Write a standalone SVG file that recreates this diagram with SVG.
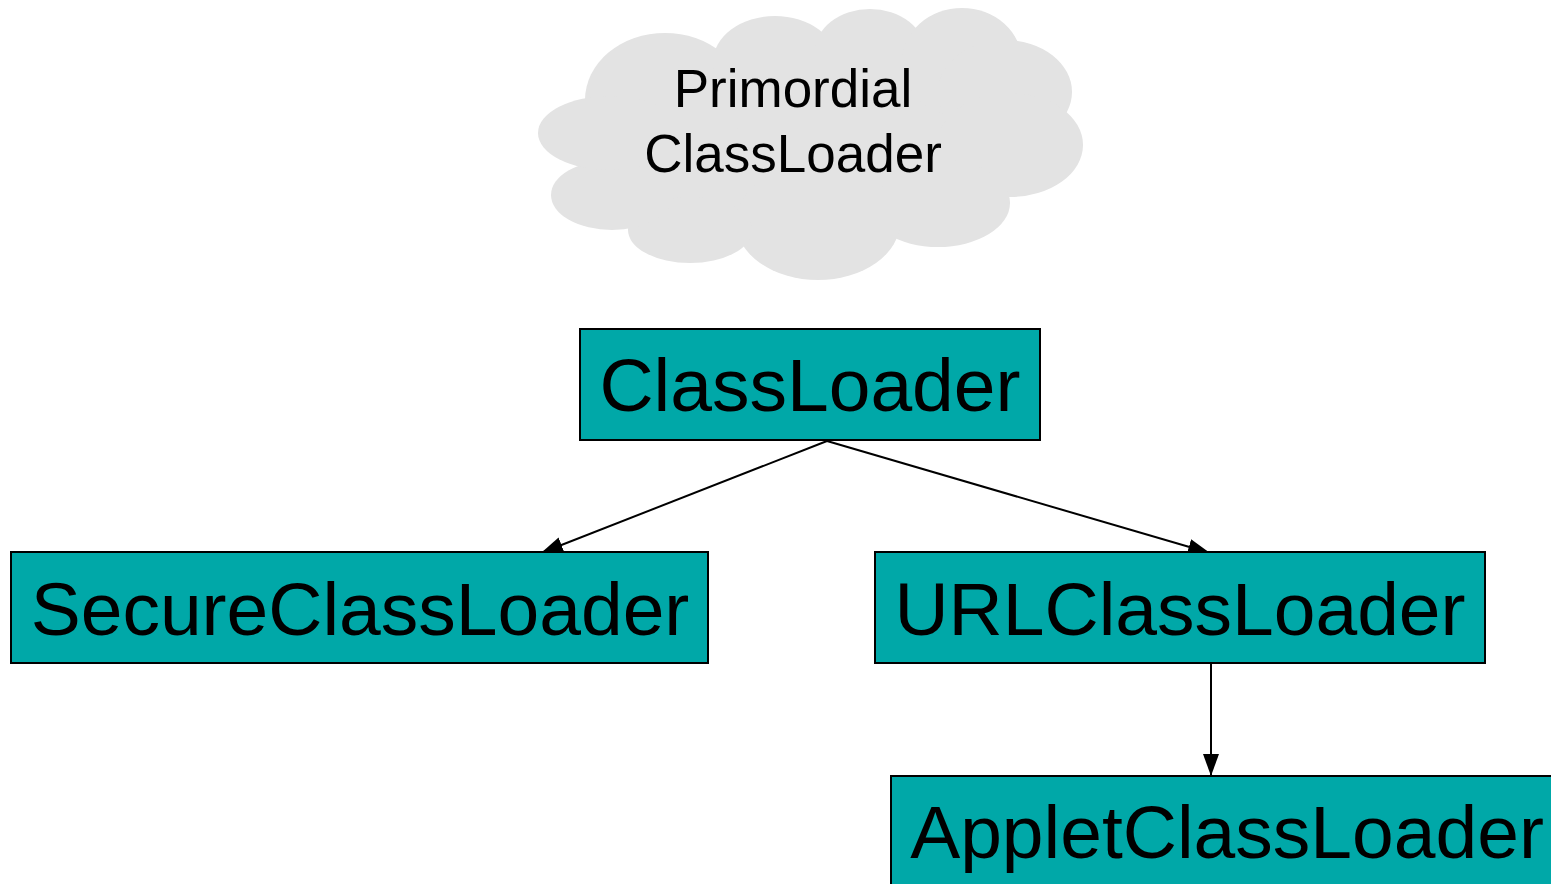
<svg xmlns="http://www.w3.org/2000/svg" width="1551" height="884" viewBox="0 0 1551 884">
<style>
.box{fill:#00A8A8;stroke:#000;stroke-width:2}
.lbl{font-family:"Liberation Sans",Arial,sans-serif;font-size:75px;fill:#000;text-anchor:middle}
.cl{font-family:"Liberation Sans",Arial,sans-serif;font-size:53px;fill:#000;text-anchor:middle}
.cloud ellipse{fill:#E3E3E3}
.conn{stroke:#000;stroke-width:2;fill:none}
</style>
<defs>
<marker id="ah" markerUnits="userSpaceOnUse" markerWidth="26" markerHeight="18" refX="22" refY="8" orient="auto">
<path d="M0,0 L22,8 L0,16 z" fill="#000"/>
</marker>
</defs>
<rect width="1551" height="884" fill="#fff"/>
<g id="primordial" class="cloud">
<ellipse cx="810" cy="145" rx="230" ry="95"/>
<ellipse cx="665" cy="100" rx="80" ry="67"/>
<ellipse cx="775" cy="62" rx="62" ry="46"/>
<ellipse cx="870" cy="52" rx="55" ry="43"/>
<ellipse cx="962" cy="62" rx="60" ry="54"/>
<ellipse cx="1005" cy="92" rx="67" ry="52"/>
<ellipse cx="1010" cy="145" rx="73" ry="52"/>
<ellipse cx="938" cy="203" rx="72" ry="44"/>
<ellipse cx="818" cy="222" rx="82" ry="58"/>
<ellipse cx="690" cy="230" rx="62" ry="33"/>
<ellipse cx="612" cy="195" rx="61" ry="35"/>
<ellipse cx="610" cy="133" rx="72" ry="37"/>
<text class="cl" x="793" y="107">Primordial</text>
<text class="cl" x="793" y="172">ClassLoader</text>
</g>
<g id="connectors">
<line class="conn" x1="827" y1="441" x2="541" y2="553" marker-end="url(#ah)"/>
<line class="conn" x1="827" y1="441" x2="1210" y2="553" marker-end="url(#ah)"/>
<line class="conn" x1="1211" y1="664" x2="1211" y2="776" marker-end="url(#ah)"/>
</g>
<g id="classloader">
<rect class="box" x="580" y="329" width="460" height="111"/>
<text class="lbl" x="810" y="411">ClassLoader</text>
</g>
<g id="secureclassloader">
<rect class="box" x="11" y="552" width="697" height="111"/>
<text class="lbl" x="360" y="635">SecureClassLoader</text>
</g>
<g id="urlclassloader">
<rect class="box" x="875" y="552" width="610" height="111"/>
<text class="lbl" x="1180" y="635">URLClassLoader</text>
</g>
<g id="appletclassloader">
<rect class="box" x="891" y="776" width="680" height="130"/>
<text class="lbl" x="1227" y="858">AppletClassLoader</text>
</g>
</svg>
